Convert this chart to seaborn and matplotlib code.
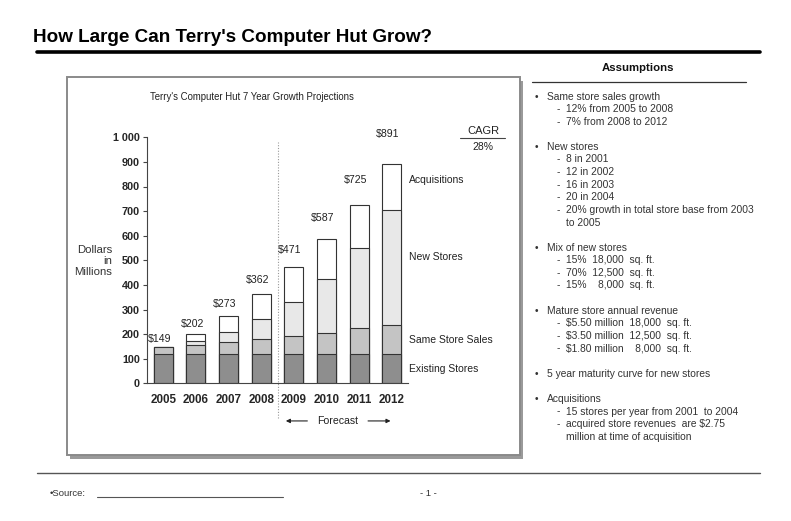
import matplotlib
matplotlib.use("Agg")
import matplotlib.pyplot as plt
from matplotlib.patches import Rectangle
from matplotlib.lines import Line2D
import seaborn as sns
import pandas as pd
import numpy as np

# ---------------- data ----------------
years = ["2005", "2006", "2007", "2008", "2009", "2010", "2011", "2012"]
existing_stores = [120, 120, 120, 120, 120, 120, 120, 120]
same_store_sales = [29, 36, 48, 61, 74, 86, 104, 118]
new_stores = [0, 16, 42, 82, 137, 218, 325, 466]
acquisitions = [0, 30, 63, 99, 140, 163, 176, 187]
totals = [149, 202, 273, 362, 471, 587, 725, 891]
series_names = ["Existing Stores", "Same Store Sales", "New Stores", "Acquisitions"]
y_ticks = [0, 100, 200, 300, 400, 500, 600, 700, 800, 900, 1000]
y_tick_labels = ["0", "100", "200", "300", "400", "500", "600", "700", "800", "900", "1 000"]
cagr_text = "28%"

assumptions = [
    ("b", "Same store sales growth"),
    ("s", "12% from 2005 to 2008"),
    ("s", "7% from 2008 to 2012"),
    ("gap", ""),
    ("b", "New stores"),
    ("s", "8 in 2001"),
    ("s", "12 in 2002"),
    ("s", "16 in 2003"),
    ("s", "20 in 2004"),
    ("s", "20% growth in total store base from 2003"),
    ("c", "to 2005"),
    ("gap", ""),
    ("b", "Mix of new stores"),
    ("s", "15%  18,000  sq. ft."),
    ("s", "70%  12,500  sq. ft."),
    ("s", "15%    8,000  sq. ft."),
    ("gap", ""),
    ("b", "Mature store annual revenue"),
    ("s", "$5.50 million  18,000  sq. ft."),
    ("s", "$3.50 million  12,500  sq. ft."),
    ("s", "$1.80 million    8,000  sq. ft."),
    ("gap", ""),
    ("b", "5 year maturity curve for new stores"),
    ("gap", ""),
    ("b", "Acquisitions"),
    ("s", "15 stores per year from 2001  to 2004"),
    ("s", "acquired store revenues  are $2.75"),
    ("c", "million at time of acquisition"),
]

# ---------------- figure ----------------
W, H = 791, 521
sns.set_style("white")
plt.rcParams["font.family"] = ["Liberation Sans", "DejaVu Sans"]

fig = plt.figure(figsize=(W / 100, H / 100), dpi=100)

def fx(px):
    return px / W

def fy(py):
    return 1 - py / H

# page title + thick rule
fig.text(fx(33), fy(37), "How Large Can Terry's Computer Hut Grow?", fontsize=13.6,
         fontweight="bold", ha="left", va="center", color="black")
fig.add_artist(Line2D([fx(37), fx(760)], [fy(51.5), fy(51.5)], color="black", lw=2.6))

# chart box with shadow
fig.add_artist(Rectangle((fx(70), fy(459)), fx(520) - fx(67), fy(77) - fy(455),
                         transform=fig.transFigure, facecolor="#9a9a9a", edgecolor="none", zorder=0))
fig.add_artist(Rectangle((fx(67), fy(455)), fx(520) - fx(67), fy(77) - fy(455),
                         transform=fig.transFigure, facecolor="white", edgecolor="#8a8a8a",
                         lw=1.4, zorder=0.5))

# axes
ax = fig.add_axes([fx(147), fy(383.3), fx(408) - fx(147), fy(137.3) - fy(383.3)])
ax.set_zorder(3)
ax.set_facecolor("none")

df = pd.DataFrame({
    "year": years,
    "Existing Stores": existing_stores,
    "Same Store Sales": same_store_sales,
    "New Stores": new_stores,
    "Acquisitions": acquisitions,
})
cum = df[series_names].cumsum(axis=1)
colors = {"Existing Stores": "#8e8e8e", "Same Store Sales": "#c4c4c4",
          "New Stores": "#e8e8e8", "Acquisitions": "#ffffff"}

for name in reversed(series_names):
    sns.barplot(x=df["year"], y=cum[name], ax=ax, color=colors[name], width=0.58,
                edgecolor="#333333", linewidth=0.8, saturation=1, zorder=2)

ax.set_xlim(-0.5, 7.5)
ax.set_ylim(0, 1000)
ax.set_xlabel("")
ax.set_ylabel("")
ax.set_yticks(y_ticks)
ax.set_yticklabels(y_tick_labels, fontweight="bold", fontsize=7.8)
ax.set_xticks(range(len(years)))
ax.set_xticklabels(years, fontweight="bold", fontsize=8.4)
ax.tick_params(axis="x", length=0, pad=7.5)
ax.tick_params(axis="y", length=3, width=0.8, pad=2, left=True, color="#444444")
for s in ["top", "right"]:
    ax.spines[s].set_visible(False)
for s in ["left", "bottom"]:
    ax.spines[s].set_color("#444444")
    ax.spines[s].set_linewidth(0.8)

# total labels
for i, t in enumerate(totals):
    ax.text(i - 0.12, t * 1.12 + 15, f"${t}", ha="center", va="center", fontsize=7.6,
            color="#222222", clip_on=False)

# forecast divider
ax.plot([3.5, 3.5], [-142, 980], linestyle=(0, (1, 1.5)), color="#999999", lw=0.8,
        clip_on=False, zorder=1)
ax.text(5.33, -153, "Forecast", ha="center", va="center", fontsize=7.6, color="#222222")
ax.annotate("", xy=(3.67, -153), xytext=(4.5, -153), xycoords="data",
            arrowprops=dict(arrowstyle="-|>", color="#222222", lw=0.8, mutation_scale=6),
            annotation_clip=False)
ax.annotate("", xy=(7.05, -153), xytext=(6.19, -153), xycoords="data",
            arrowprops=dict(arrowstyle="-|>", color="#222222", lw=0.8, mutation_scale=6),
            annotation_clip=False)

# series labels on the right
label_y = {"Acquisitions": 826, "New Stores": 513, "Same Store Sales": 176, "Existing Stores": 58}
for name in series_names:
    ax.text(7.53, label_y[name], name, ha="left", va="center", fontsize=7.5, color="#222222",
            clip_on=False)

# CAGR
fig.text(fx(483), fy(131), "CAGR", ha="center", va="center", fontsize=8, color="#222222")
fig.add_artist(Line2D([fx(460), fx(505)], [fy(138.5), fy(138.5)], color="#444444", lw=0.8))
fig.text(fx(483), fy(147), cagr_text, ha="center", va="center", fontsize=7.5, color="#222222")

# chart title and y label
fig.text(fx(252), fy(97), "Terry's Computer Hut 7 Year Growth Projections", ha="center",
         va="center", fontsize=6.9, color="#222222")
fig.text(fx(112), fy(261), "Dollars\nin\nMillions", ha="right", va="center", fontsize=8.2,
         color="#333333", linespacing=1.1)

# assumptions panel
fig.text(fx(638), fy(68), "Assumptions", ha="center", va="center", fontsize=8.2,
         fontweight="bold", color="#111111")
fig.add_artist(Line2D([fx(532), fx(746)], [fy(81.5), fy(81.5)], color="#333333", lw=0.9))

y = 96.5
step = 12.6
fs = 7.4
for kind, txt in assumptions:
    if kind == "gap":
        y += step
        continue
    if kind == "b":
        fig.text(fx(535), fy(y), "•", ha="left", va="center", fontsize=fs, color="#333333")
        fig.text(fx(547), fy(y), txt, ha="left", va="center", fontsize=fs, color="#333333")
    elif kind == "s":
        fig.text(fx(557), fy(y), "-", ha="left", va="center", fontsize=fs, color="#333333")
        fig.text(fx(566), fy(y), txt, ha="left", va="center", fontsize=fs, color="#333333")
    else:
        fig.text(fx(566), fy(y), txt, ha="left", va="center", fontsize=fs, color="#333333")
    y += step

# footer
fig.add_artist(Line2D([fx(37), fx(760)], [fy(473), fy(473)], color="#555555", lw=1.0))
fig.text(fx(50), fy(493), "•Source:", ha="left", va="center", fontsize=6.8, color="#333333")
fig.add_artist(Line2D([fx(97), fx(283)], [fy(497), fy(497)], color="#555555", lw=0.8))
fig.text(fx(428), fy(493), "- 1 -", ha="center", va="center", fontsize=6.8, color="#333333")

fig.savefig("out.png", dpi=100, facecolor="white")
